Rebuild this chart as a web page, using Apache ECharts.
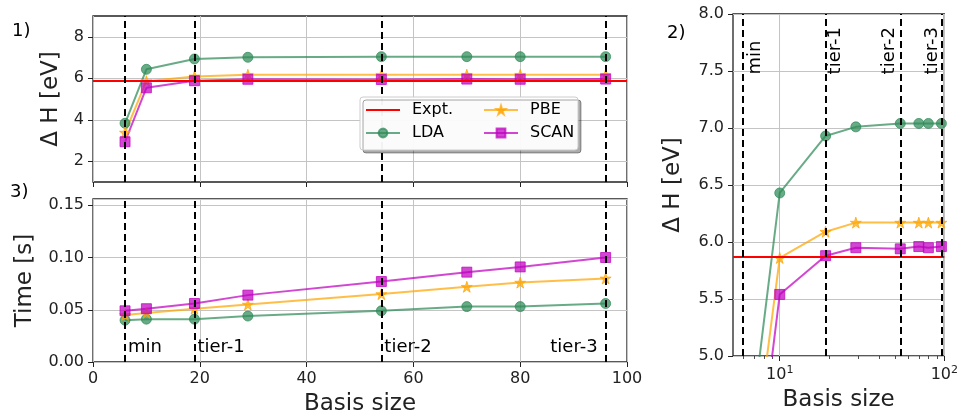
<!DOCTYPE html>
<html>
<head>
<meta charset="utf-8">
<script src="https://cdn.jsdelivr.net/npm/echarts@6/dist/echarts.min.js"></script>
<style>
  html, body { margin: 0; padding: 0; background: #fff; }
  #chart { width: 961px; height: 417px; }
</style>
</head>
<body>
<div id="chart"></div>
<script>
// Basis-set convergence of the formation enthalpy and timing per functional
const basisSize = [6, 10, 19, 29, 54, 70, 80, 96];

const ldaDeltaH  = [3.83, 6.43, 6.93, 7.01, 7.04, 7.04, 7.04, 7.04];
const pbeDeltaH  = [3.38, 5.86, 6.09, 6.17, 6.17, 6.17, 6.17, 6.17];
const scanDeltaH = [2.94, 5.54, 5.88, 5.95, 5.94, 5.96, 5.95, 5.96];
const exptDeltaH = 5.87;

const ldaTime  = [0.040, 0.041, 0.041, 0.044, 0.049, 0.053, 0.053, 0.056];
const pbeTime  = [0.045, 0.047, 0.051, 0.055, 0.065, 0.072, 0.076, 0.080];
const scanTime = [0.049, 0.051, 0.056, 0.064, 0.077, 0.086, 0.091, 0.100];

const tierSizes = [6, 19, 54, 96];
const tierNames = ['min', 'tier-1', 'tier-2', 'tier-3'];

const deltaHTicks = [2, 4, 6, 8];
const logMajorTicks = [10, 100];
const logMinorTicks = [6, 7, 8, 9, 20, 30, 40, 50, 60, 70, 80, 90];

const FONT = 'DejaVu Sans';
const INK = '#222';
const GRID_LINE = '#c4c4c4';

const COLORS = {
  expt: '#ff0000',
  lda: '#2e8b57',
  pbe: '#ffa500',
  scan: '#bf00bf'
};
const STAR = 'path://M50,2 L61.2,36.3 L97.6,36.3 L68.2,57.7 L79.4,92 L50,70.8 L20.6,92 L31.8,57.7 L2.4,36.3 L38.8,36.3 Z';

const pairs = (xs, ys) => xs.map((x, i) => [x, ys[i]]);

function baseAxis(extra) {
  return Object.assign({
    axisLine: { show: false },
    axisTick: { show: true, inside: false, length: 5, lineStyle: { color: INK, width: 1 } },
    axisLabel: { color: INK, fontFamily: FONT, fontSize: 16, margin: 9 },
    splitLine: { show: true, lineStyle: { color: GRID_LINE, width: 1 } },
    nameTextStyle: { color: INK, fontFamily: FONT, fontSize: 23 }
  }, extra);
}

function methodSeries(name, data, color, symbol, size, xi, yi) {
  return {
    name, type: 'line', data, xAxisIndex: xi, yAxisIndex: yi,
    symbol, symbolSize: size, showAllSymbol: true, clip: true,
    lineStyle: { color, width: 2, opacity: 0.72 },
    itemStyle: { color, opacity: 0.72, borderColor: color, borderWidth: 1 },
    z: 3
  };
}

function exptSeries(xi, yi) {
  return {
    name: 'Expt.', type: 'line', data: [], xAxisIndex: xi, yAxisIndex: yi,
    symbol: 'none',
    lineStyle: { color: COLORS.expt, width: 2 },
    itemStyle: { color: COLORS.expt },
    markLine: {
      silent: true, symbol: ['none', 'none'], label: { show: false },
      lineStyle: { color: COLORS.expt, width: 2, type: 'solid' },
      data: [{ yAxis: exptDeltaH }]
    },
    z: 2
  };
}

function tierSeries(xi, yi, labels) {
  const s = {
    name: 'basis tiers', type: 'line', data: [], xAxisIndex: xi, yAxisIndex: yi,
    markLine: {
      silent: true, symbol: ['none', 'none'], label: { show: false },
      lineStyle: { color: '#000', width: 2, type: [7, 4] },
      data: tierSizes.map(v => ({ xAxis: v }))
    },
    z: 4
  };
  if (labels) s.markPoint = labels;
  return s;
}

// Tier names along the bottom of the timing panel
const timeLabels = {
  silent: true, symbol: 'circle', symbolSize: 0,
  data: tierSizes.map((x, i) => {
    const last = i === tierSizes.length - 1;
    return {
      coord: [x, 0.0145],
      label: {
        show: true, formatter: tierNames[i],
        position: last ? [-8, 0] : [3, 0],
        align: last ? 'right' : 'left', verticalAlign: 'middle',
        color: '#000', fontFamily: FONT, fontSize: 18
      }
    };
  })
};

// Rotated tier names near the top of the log panel
const logOffsets = [12, 10, -11, -9];
const logLabels = {
  silent: true, symbol: 'circle', symbolSize: 0,
  data: tierSizes.map((x, i) => ({
    coord: [x, 7.47],
    label: {
      show: true, formatter: tierNames[i],
      position: [logOffsets[i], 0], rotate: 90,
      align: 'left', verticalAlign: 'middle',
      color: '#000', fontFamily: FONT, fontSize: 18
    }
  }))
};

const legendText = { color: '#000', fontFamily: FONT, fontSize: 16, lineHeight: 16, padding: [0, 0, 0, 7] };

const option = {
  animation: false,
  backgroundColor: '#fff',
  textStyle: { fontFamily: FONT },
  grid: [
    { left: 93, top: 16, width: 534, height: 166, show: true, borderColor: INK, borderWidth: 1.3, backgroundColor: 'transparent' },
    { left: 93, top: 199, width: 534, height: 165, show: true, borderColor: INK, borderWidth: 1.3, backgroundColor: 'transparent' },
    { left: 733, top: 14, width: 214, height: 348, show: true, borderColor: INK, borderWidth: 1.3, backgroundColor: 'transparent' }
  ],
  xAxis: [
    baseAxis({ gridIndex: 0, type: 'value', position: 'bottom', min: 0, max: 100, interval: 20, axisLabel: { show: false } }),
    baseAxis({ gridIndex: 1, type: 'value', position: 'bottom', min: 0, max: 100, interval: 20,
      name: 'Basis size', nameLocation: 'middle', nameGap: 31 }),
    baseAxis({ gridIndex: 2, type: 'log', position: 'bottom', logBase: 10, min: 5.2, max: 100,
      name: 'Basis size', nameLocation: 'middle', nameGap: 33,
      axisTick: { show: true, inside: false, length: 5, lineStyle: { color: INK, width: 1 }, customValues: logMajorTicks },
      axisLabel: {
        color: INK, fontFamily: FONT, fontSize: 16, margin: 9, customValues: logMajorTicks,
        formatter: v => '10{s|' + Math.round(Math.log10(v)) + '}',
        rich: { s: { fontSize: 11, verticalAlign: 'top', padding: [0, 0, 9, 0], fontFamily: FONT, color: INK } }
      }
    }),
    // minor decade ticks for the log panel
    baseAxis({ gridIndex: 2, type: 'log', position: 'bottom', offset: 0, logBase: 10, min: 5.2, max: 100,
      axisTick: { show: true, inside: false, length: 3, lineStyle: { color: INK, width: 0.8 }, customValues: logMinorTicks },
      axisLabel: { show: false }, splitLine: { show: false } })
  ],
  yAxis: [
    baseAxis({ gridIndex: 0, type: 'value', min: 1, max: 9,
      axisTick: { show: true, inside: false, length: 5, lineStyle: { color: INK, width: 1 }, customValues: deltaHTicks },
      axisLabel: { color: INK, fontFamily: FONT, fontSize: 16, margin: 9, customValues: deltaHTicks },
      name: 'Δ H [eV]', nameLocation: 'middle', nameGap: 30 }),
    baseAxis({ gridIndex: 1, type: 'value', min: 0, max: 0.156, interval: 0.05,
      axisLabel: { color: INK, fontFamily: FONT, fontSize: 16, margin: 9, formatter: v => v.toFixed(2) },
      name: 'Time [s]', nameLocation: 'middle', nameGap: 56 }),
    baseAxis({ gridIndex: 2, type: 'value', min: 5, max: 8, interval: 0.5,
      axisLabel: { color: INK, fontFamily: FONT, fontSize: 16, margin: 9, formatter: v => v.toFixed(1) },
      name: 'Δ H [eV]', nameLocation: 'middle', nameGap: 48 })
  ],
  legend: [
    {
      data: [{ name: 'Expt.', itemStyle: { opacity: 0 } }, 'LDA'],
      orient: 'vertical', left: 365, top: 102, padding: 0,
      itemWidth: 34, itemHeight: 11, itemGap: 7, z: 12, textStyle: legendText
    },
    {
      data: ['PBE', 'SCAN'],
      orient: 'vertical', left: 483, top: 102, padding: 0,
      itemWidth: 34, itemHeight: 11, itemGap: 7, z: 12, textStyle: legendText
    }
  ],
  graphic: [
    {
      type: 'rect', z: 10, silent: true,
      shape: { x: 360, y: 97, width: 218, height: 53, r: 3 },
      style: { fill: 'rgba(255,255,255,0.95)', stroke: '#cccccc', lineWidth: 1,
        shadowBlur: 0, shadowOffsetX: 3, shadowOffsetY: 3, shadowColor: 'rgba(0,0,0,0.35)' }
    },
    { type: 'text', left: 12, top: 22, style: { text: '1)', font: '18px "DejaVu Sans"', fill: '#000' } },
    { type: 'text', left: 10, top: 183, style: { text: '3)', font: '18px "DejaVu Sans"', fill: '#000' } },
    { type: 'text', left: 667, top: 24, style: { text: '2)', font: '18px "DejaVu Sans"', fill: '#000' } }
  ],
  series: [
    // panel 1: enthalpy, linear basis axis
    exptSeries(0, 0),
    methodSeries('LDA', pairs(basisSize, ldaDeltaH), COLORS.lda, 'circle', 10, 0, 0),
    methodSeries('PBE', pairs(basisSize, pbeDeltaH), COLORS.pbe, STAR, 11, 0, 0),
    methodSeries('SCAN', pairs(basisSize, scanDeltaH), COLORS.scan, 'rect', 10, 0, 0),
    tierSeries(0, 0, null),
    // panel 3: timing
    methodSeries('LDA', pairs(basisSize, ldaTime), COLORS.lda, 'circle', 10, 1, 1),
    methodSeries('PBE', pairs(basisSize, pbeTime), COLORS.pbe, STAR, 11, 1, 1),
    methodSeries('SCAN', pairs(basisSize, scanTime), COLORS.scan, 'rect', 10, 1, 1),
    tierSeries(1, 1, timeLabels),
    // panel 2: enthalpy, log basis axis
    exptSeries(2, 2),
    methodSeries('LDA', pairs(basisSize, ldaDeltaH), COLORS.lda, 'circle', 10, 2, 2),
    methodSeries('PBE', pairs(basisSize, pbeDeltaH), COLORS.pbe, STAR, 11, 2, 2),
    methodSeries('SCAN', pairs(basisSize, scanDeltaH), COLORS.scan, 'rect', 10, 2, 2),
    tierSeries(2, 2, logLabels)
  ]
};

const chart = echarts.init(document.getElementById('chart'), null, { renderer: 'canvas' });
chart.setOption(option);
</script>
</body>
</html>
